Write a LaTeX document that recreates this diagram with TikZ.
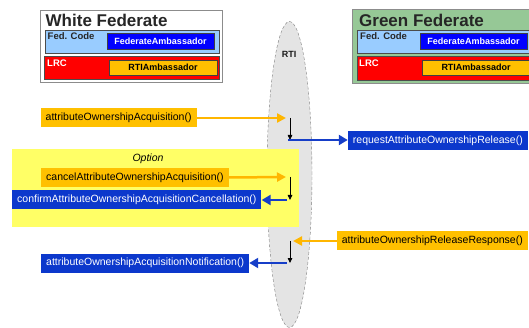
\documentclass[tikz,border=0pt]{standalone}
\usepackage{fontspec}
\setmainfont{Liberation Sans}
\usetikzlibrary{arrows.meta,shapes.geometric}
\definecolor{callorange}{RGB}{255,192,0}
\definecolor{callarrow}{RGB}{255,182,0}
\definecolor{backblue}{RGB}{12,56,204}
\definecolor{backarrow}{RGB}{22,62,200}
\definecolor{fedblue}{RGB}{0,0,255}
\definecolor{codeblue}{RGB}{153,204,255}
\definecolor{lrcred}{RGB}{255,0,0}
\definecolor{fedgreen}{RGB}{150,200,150}
\definecolor{optyellow}{RGB}{255,255,102}
\definecolor{rtigray}{RGB}{228,228,228}
\begin{document}
\begin{tikzpicture}[
  x=1pt, y=-1pt,
  font=\fontsize{10.5}{12}\selectfont,
  fedbox/.style={draw=black!45, anchor=north west, inner sep=0pt, minimum height=72pt},
  layer/.style={draw=black!70, anchor=north west, inner sep=0pt, minimum width=200pt, minimum height=23pt},
  amb/.style={draw=black!75, font=\fontsize{9}{10}\selectfont\bfseries, inner sep=0pt,
              minimum width=107pt, minimum height=16pt},
  fedtag/.style={anchor=base west, inner sep=0pt, font=\fontsize{9.5}{10}\selectfont\bfseries},
  fedtitle/.style={anchor=west, inner sep=0pt, font=\fontsize{17}{18}\selectfont\bfseries, text=black!85},
  callbox/.style={fill=callorange, text=black, inner xsep=5pt, inner ysep=0pt, minimum height=19pt},
  backbox/.style={callbox, fill=backblue, text=white},
  oarr/.style={-{Triangle[length=9pt,width=9pt]}, line width=2.5pt, callarrow},
  barr/.style={-{Triangle[length=9pt,width=10pt]}, line width=2.8pt, backarrow},
  karr/.style={-{Triangle[length=5pt,width=4.5pt]}, line width=0.8pt}
]
\clip (0,0) rectangle (529,328);
% ----- White federate -----
\node[fedbox, fill=white, minimum width=182pt] (wfed) at (40,10) {};
\node[fedtitle] (wtitle) at (45.5,20.5) {White Federate};
\node[layer, fill=codeblue, minimum width=174.5pt] (wcode) at (44.5,30) {};
\node[fedtag, text=black!85] (wcodetag) at (47.5,40) {Fed. Code};
\node[amb, fill=fedblue, text=white] (wfa) at (160.5,41) {FederateAmbassador};
\node[layer, fill=lrcred, minimum width=175pt] (wlrc) at (44,56) {};
\node[fedtag, text=white] (wlrctag) at (47,67) {LRC};
\node[amb, fill=callorange, minimum width=108pt, minimum height=15pt] (wrti) at (163,67.5) {RTIAmbassador};
% ----- Green federate (runs off the right edge) -----
\node[fedbox, fill=fedgreen, minimum width=200pt, minimum height=74pt] (gfed) at (352,9) {};
\node[fedtitle] (gtitle) at (359,20.5) {Green Federate};
\node[layer, fill=codeblue] (gcode) at (357,30) {};
\node[fedtag, text=black!85] (gcodetag) at (360,40) {Fed. Code};
\node[amb, fill=fedblue, text=white] (gfa) at (473.5,41) {FederateAmbassador};
\node[layer, fill=lrcred, minimum height=24pt] (glrc) at (357,56) {};
\node[fedtag, text=white] (glrctag) at (359,67) {LRC};
\node[amb, fill=callorange, minimum width=108pt, minimum height=15pt] (grti) at (476,67.5) {RTIAmbassador};
% ----- RTI -----
\node[ellipse, draw=black!50, dash pattern=on 3pt off 2pt, fill=rtigray, minimum width=45pt,
      minimum height=306pt, inner sep=0pt] (rti) at (289.5,174.5) {};
\node[font=\fontsize{9}{10}\selectfont\bfseries, text=black!90] (rtitag) at (289,54) {RTI};
% ----- option band -----
\node[fill=optyellow, anchor=north west, minimum width=287pt, minimum height=78pt, inner sep=0pt]
  (opt) at (12,149) {};
\node[font=\fontsize{10.5}{12}\selectfont\itshape] (opttag) at (148,159) {Option};
% ----- service calls -----
\node[callbox, anchor=west] (acq)     at (40.5,118) {attributeOwnershipAcquisition()};
\node[backbox, anchor=east] (req)     at (528,141)  {requestAttributeOwnershipRelease()};
\node[callbox, anchor=west] (cancel)  at (41,177.5) {cancelAttributeOwnershipAcquisition()};
\node[backbox, anchor=west] (confirm) at (12,199.5) {confirmAttributeOwnershipAcquisitionCancellation()};
\node[callbox, anchor=east] (resp)    at (528,241)  {attributeOwnershipReleaseResponse()};
\node[backbox, anchor=west] (notif)   at (41,263)   {attributeOwnershipAcquisitionNotification()};
% ----- points on the RTI axis -----
\foreach \n/\y in {a1/118, a2/140, c1/177, c2/200, r1/241, r2/263}{\coordinate (\n) at (290,\y);}
% ----- connections -----
\draw[oarr] (acq.east) -- ([xshift=-4pt]a1);
\draw[karr] (a1) -- (a2);
\draw[barr] ([xshift=-2pt]a2) -- (a2 -| req.west);
\draw[oarr] (cancel.east) -- ([xshift=-4pt]c1);
\draw[karr] (c1) -- (c2);
\draw[barr] ([xshift=-3pt]c2) -- (c2 -| confirm.east);
\draw[oarr] (resp.west) -- ([xshift=3pt]r1);
\draw[karr] (r1) -- (r2);
\draw[barr] ([xshift=-3pt]r2) -- (r2 -| notif.east);
\end{tikzpicture}
\end{document}
